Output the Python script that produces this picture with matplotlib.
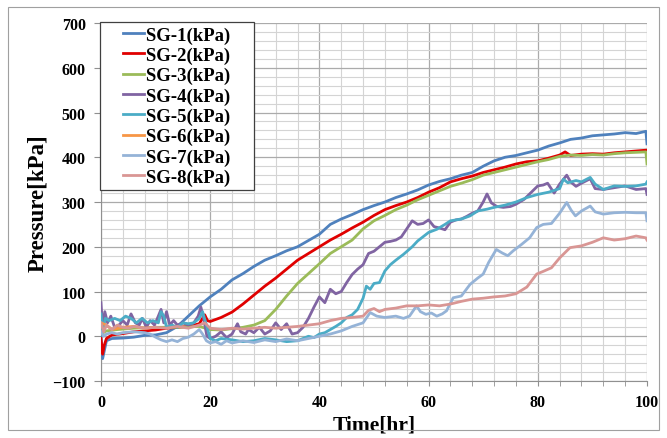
import numpy as np
import matplotlib
matplotlib.use("Agg")
import matplotlib.pyplot as plt
from matplotlib.patches import Rectangle
from matplotlib.ticker import MultipleLocator
from matplotlib.legend_handler import HandlerLine2D

# SG-1 .. SG-8 pressure readings (kPa) vs time (hr)
t1 = [0, 0.3, 1, 2, 4, 6, 8, 10, 12, 14, 16, 18, 20, 22, 24, 26, 28, 30, 32, 34, 36, 38, 40, 42, 44, 46, 48,
      50, 52, 54, 56, 58, 60, 62, 64, 66, 68, 70, 72, 74, 76, 78, 80, 82, 84, 86, 88, 90, 92, 94, 96, 98, 99.8, 100]
v1 = [0, -50, -10, -5, -4, -2, 2, 3, 8, 22, 45, 68, 88, 105, 126, 140, 156, 170, 180, 191, 200, 214, 228, 250, 262, 272, 283,
      292, 300, 310, 318, 327, 338, 346, 352, 360, 366, 380, 392, 400, 404, 410, 416, 425, 432, 440, 443, 448, 450, 452, 455, 453, 458, 430]

t2 = [0, 0.3, 0.6, 1, 2, 4, 6, 8, 10, 12, 14, 16, 18, 19, 19.5, 20, 22, 24, 26, 28, 30, 32, 34, 36, 38, 40, 42, 44, 46, 48,
      50, 52, 54, 56, 58, 60, 62, 64, 66, 68, 70, 72, 74, 76, 78, 80, 82, 84, 85, 86, 88, 90, 92, 94, 96, 98, 100]
v2 = [-5, -40, -20, -5, 3, 6, 10, 12, 14, 18, 20, 22, 28, 48, 35, 33, 42, 54, 72, 92, 112, 130, 150, 170, 185, 200, 215, 228, 242, 255,
      270, 283, 292, 300, 310, 322, 332, 345, 352, 358, 366, 372, 378, 385, 390, 392, 398, 405, 412, 404, 407, 408, 407, 410, 412, 414, 416]

t3 = [0, 1, 3, 6, 10, 14, 18, 20, 22, 24, 26, 28, 30, 32, 34, 36, 38, 40, 42, 44, 46, 48, 50, 52, 54, 56, 58, 60, 62,
      64, 66, 68, 70, 72, 74, 76, 78, 80, 82, 84, 86, 88, 90, 92, 94, 96, 98, 99.8, 100]
v3 = [5, 12, 15, 18, 20, 20, 22, 15, 14, 17, 20, 25, 35, 60, 90, 118, 140, 162, 185, 200, 215, 240, 258, 270, 283, 293, 305, 315, 325,
      335, 342, 350, 360, 366, 372, 378, 384, 390, 395, 402, 405, 404, 406, 405, 408, 410, 411, 412, 385]

t4 = [0, 0.3, 0.7, 1.2, 1.8, 2.5, 3.3, 4, 4.8, 5.5, 6.3, 7, 7.6, 8.3, 9, 9.8, 10.5, 11, 11.5, 12, 12.6, 13.3, 14, 15, 16, 17,
      17.8, 18.3, 18.8, 19.4, 20, 21, 22, 23, 24, 25, 25.6, 26.5, 27, 28, 29, 30, 31, 32, 33, 34, 35, 36, 37, 38, 39, 40,
      41, 42, 43, 44, 45, 46, 47, 48, 49, 50, 51, 52, 53, 54, 55, 56, 57, 58, 59, 60, 61, 62, 63, 64, 65, 66, 67, 68, 69,
      70, 70.7, 71.5, 72.5, 73.7, 75, 76, 77.5, 78.5, 80, 81, 81.8, 83, 84, 85.3, 86, 87, 88, 89.6, 90.5, 92, 94, 96, 98, 99.8, 100]
v4 = [75, 20, 55, 30, 45, 20, 25, 35, 25, 50, 30, 25, 40, 20, 35, 25, 45, 60, 30, 55, 25, 35, 25, 30, 25, 30,
      45, 65, 40, 0, -5, 0, 10, -3, 5, 28, 10, 5, 15, 8, 20, 5, 12, 30, 15, 28, 5, 8, 20, 40, 65, 88,
      75, 105, 95, 100, 120, 138, 150, 160, 185, 190, 200, 210, 212, 215, 222, 240, 258, 250, 252, 260, 245, 242, 238, 255, 260, 262, 268, 275, 280,
      300, 318, 298, 290, 288, 290, 295, 306, 318, 336, 338, 342, 320, 340, 360, 345, 335, 342, 352, 330, 328, 332, 336, 328, 330, 317]

t5 = [0, 0.3, 0.8, 1.5, 2.5, 3.5, 4.5, 5.5, 6.5, 7.5, 8.5, 9.5, 10.5, 11, 11.5, 12, 13, 14, 15, 16, 17, 18, 18.6, 19.2,
      20, 21, 22, 24, 26, 28, 30, 32, 34, 36, 37, 38, 39, 40, 41, 42, 43, 44, 45, 46, 47, 48, 48.6, 49.3, 50, 51, 52, 53,
      54, 55.4, 57, 58, 60, 61.5, 63, 64, 66, 67.6, 69, 70.7, 72, 74, 76, 78, 80, 82, 84, 84.7, 85.5, 87, 88, 89.6, 90.5,
      92, 94, 96, 98, 99.8, 100]
v5 = [50, 10, 40, 35, 40, 35, 45, 40, 30, 40, 30, 35, 30, 55, 45, 20, 25, 20, 30, 28, 30, 40, 55, 30,
      -5, -10, -5, -8, -12, -10, -5, -8, -12, -10, -5, 0, -3, 5, 8, 15, 22, 30, 42, 48, 60, 85, 112, 105, 118, 120, 146, 160,
      170, 183, 200, 213, 232, 239, 250, 258, 262, 269, 280, 284, 288, 293, 300, 310, 317, 322, 330, 351, 343, 348, 345, 355, 340,
      328, 336, 335, 336, 340, 345]

t6 = [0, 1, 2, 4, 6, 8, 10]
v6 = [30, 25, 15, 20, 22, 18, 20]

t7 = [0, 0.5, 1, 2, 3, 4, 6, 8, 9, 10, 11, 12, 13, 14, 15, 16, 17, 18, 18.6, 19.3, 20, 21, 22, 23, 24, 26, 28, 30, 32,
      34, 36, 38, 40, 42, 44, 46, 48, 49.3, 50.5, 52, 54, 55.4, 56.5, 57.8, 58.5, 59.5, 60.5, 61.5, 62.5, 63.3, 64.5, 66,
      67.6, 69, 70, 71, 72.4, 73.5, 74.5, 75.5, 77, 78.5, 79.8, 81, 82.5, 84, 85.3, 86.1, 86.9, 88, 89.6, 90.5, 92, 94,
      96, 98, 99.8, 100]
v7 = [10, 0, 5, 8, 5, 8, 10, 8, 5, -2, -8, -12, -8, -12, -5, -2, 5, 15, 5, -10, -15, -12, -18, -10, -15, -10, -14, -8, -12,
      -6, -10, -5, 0, 5, 12, 22, 30, 53, 45, 42, 45, 40, 45, 68, 55, 49, 52, 45, 50, 57, 86, 90,
      116, 130, 139, 165, 194, 186, 180, 191, 205, 220, 243, 250, 252, 275, 299, 282, 269, 280, 291, 278, 273, 276,
      277, 276, 276, 258]

t8 = [0, 0.5, 1, 2, 3, 4, 5, 6, 8, 10, 12, 14, 16, 18, 19, 20, 22, 24, 26, 28, 30, 32, 34, 36, 38, 40, 42, 44, 46, 48,
      49, 50, 51, 52, 54, 56, 58, 60, 62, 64, 66, 68, 70, 72, 74, 76, 78, 79.8, 81, 82.5, 84, 85.9, 88, 90, 92, 94, 96,
      98, 99.8, 100]
v8 = [30, 10, 25, 15, 25, 20, 18, 22, 18, 20, 18, 22, 18, 25, 30, 18, 15, 18, 16, 18, 20, 18, 20, 22, 25, 28, 35, 40, 42, 45,
      58, 62, 55, 60, 63, 68, 68, 70, 68, 72, 78, 83, 85, 88, 90, 95, 110, 139, 145, 153, 175, 198, 202, 210, 220, 215, 218,
      224, 220, 215]

labels = ['SG-1(kPa)', 'SG-2(kPa)', 'SG-3(kPa)', 'SG-4(kPa)',
          'SG-5(kPa)', 'SG-6(kPa)', 'SG-7(kPa)', 'SG-8(kPa)']
colors = ['#4F81BD', '#E00000', '#9BBB59', '#8064A2',
          '#4BACC6', '#F79646', '#95B3D7', '#D99694']

series = [(t1, v1), (t2, v2), (t3, v3), (t4, v4), (t5, v5), (t6, v6), (t7, v7), (t8, v8)]

plt.rcParams['font.family'] = ['Liberation Serif', 'DejaVu Serif']
plt.rcParams['font.weight'] = 'bold'

fig = plt.figure(figsize=(6.67, 4.39), dpi=100)
ax = fig.add_axes([0.1514, 0.1298, 0.8186, 0.8155])

lines = []
for (t, v), lab, c in zip(series, labels, colors):
    ln, = ax.plot(t, v, color=c, lw=2.0, label=lab, zorder=3)
    lines.append(ln)

ax.set_xlim(0, 100)
ax.set_ylim(-100, 700)
ax.xaxis.set_major_locator(MultipleLocator(20))
ax.xaxis.set_minor_locator(MultipleLocator(4))
ax.yaxis.set_major_locator(MultipleLocator(100))
ax.yaxis.set_minor_locator(MultipleLocator(20))
ax.grid(which='minor', color='#D4D4D4', lw=0.8, zorder=0)
ax.grid(which='major', color='#ABABAB', lw=0.9, zorder=0)
ax.set_axisbelow(True)

for s in ['top', 'right']:
    ax.spines[s].set_visible(False)
for s in ['left', 'bottom']:
    ax.spines[s].set_color('#909090')

ax.tick_params(axis='y', which='major', labelsize=11.5, length=5, color='#909090', pad=6)
ax.tick_params(axis='x', which='major', labelsize=11.5, length=3.6, color='#909090', pad=6)
ax.tick_params(axis='x', which='minor', length=3.6, color='#909090')
ax.tick_params(axis='y', which='minor', length=0)

ax.set_xlabel('Time[hr]', fontsize=15.5, fontweight='bold')
ax.set_ylabel('Pressure[kPa]', fontsize=16.5, fontweight='bold')
ax.xaxis.set_label_coords(0.5, -0.093)
ax.yaxis.set_label_coords(-0.097, 0.5)

hmap = {ln: HandlerLine2D(xpad=1.0) for ln in lines}
leg = ax.legend(handles=lines, labels=[l + '    ' for l in labels], handler_map=hmap,
                loc='upper left', bbox_to_anchor=(-0.002, 1.002), borderaxespad=0,
                fontsize=13.5, handlelength=2.15, handletextpad=0.1, labelspacing=0.16,
                borderpad=0.22, fancybox=False, framealpha=1, edgecolor='#404040')
leg.get_frame().set_linewidth(0.9)
for txt in leg.get_texts():
    txt.set_fontweight('bold')

fig.patches.append(Rectangle((0.012, 0.018), 0.976, 0.964, transform=fig.transFigure,
                             fill=False, edgecolor='#A0A0A0', lw=0.8))

fig.savefig('out.png', dpi=100)
